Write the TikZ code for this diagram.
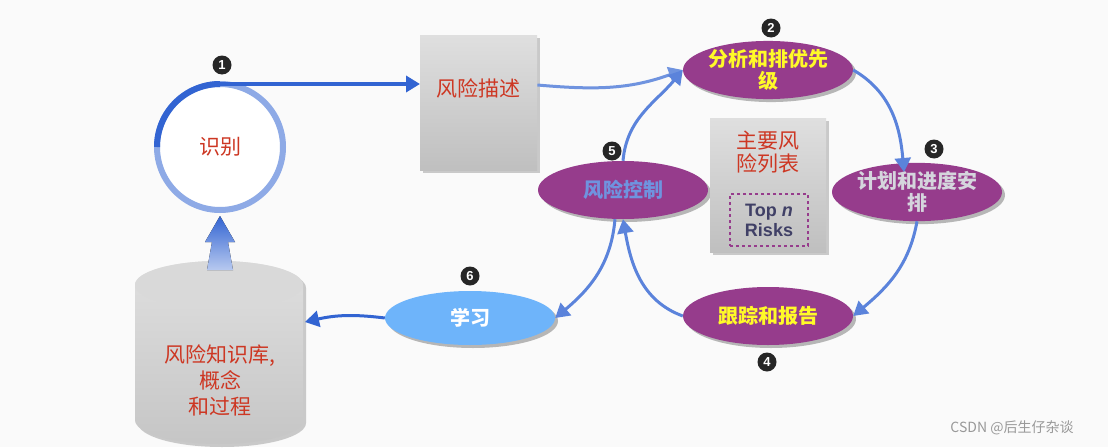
\documentclass[tikz,border=0pt]{standalone}
\usepackage{fontspec}
\setmainfont{Liberation Sans}
\newfontfamily\cjk{Noto Sans CJK SC}
\usetikzlibrary{shapes.geometric,arrows.meta,shadows}
\definecolor{rtxt}{RGB}{205,55,35}
\definecolor{purp}{RGB}{150,60,140}
\definecolor{abl}{RGB}{50,100,210}
\definecolor{lbl}{RGB}{110,180,250}
\definecolor{ytxt}{RGB}{255,250,40}
\tikzset{
  x=1pt,y=-1pt,
  oval/.style={ellipse,minimum width=170pt,minimum height=58pt,fill=purp,inner sep=0pt,align=center,
     font=\cjk\fontsize{20}{22}\selectfont\bfseries,drop shadow={shadow xshift=3pt,shadow yshift=-3pt,fill=gray!70,opacity=.8}},
  badge/.style={circle,fill=black!85,text=white,inner sep=0pt,minimum size=19pt,font=\bfseries\fontsize{13}{13}\selectfont},
  arr/.style={-{Triangle[length=14pt,width=16pt]},line width=4pt,abl},
  graybox/.style={top color=gray!25,bottom color=gray!50,draw=none,drop shadow={shadow xshift=3pt,shadow yshift=-3pt,fill=gray!80}},
}
\begin{document}
\begin{tikzpicture}
\fill[gray!4] (0,0) rectangle (1108,447);
\useasboundingbox (0,0) rectangle (1108,447);
% circle
\node[circle,minimum size=126pt,outer sep=0pt,draw=abl!55,line width=6pt,fill=white,text=rtxt,font=\cjk\fontsize{21}{21}\selectfont] (id) at (220,147) {识别};
\draw[abl,line width=6pt] (id.west) arc[start angle=180,end angle=270,radius=63] coordinate (idtop);
% box
\node[graybox,minimum width=117pt,minimum height=135pt,anchor=north west] (desc) at (420,35) {};
\node[text=rtxt,font=\cjk\fontsize{21}{21}\selectfont] (desct) at (478,88) {风险描述};
\draw[arr] (idtop) -- (desc.west |- idtop);
\node[badge] (b1) at (222,65) {1};
% ellipses
\node[oval,text=ytxt] (ana) at (768,70) {分析和排优先\\级};
\node[oval,text=blue!10!gray!30] (plan) at (917,192) {计划和进度安\\排};
\node[oval,text=ytxt] (trk) at (768,316) {跟踪和报告};
\node[oval,text=abl!70!white] (ctl) at (623,190) {风险控制};
\node[oval,fill=lbl,text=white,minimum height=54pt] (lrn) at (470,318) {学习};
\node[badge] (b2) at (771,28) {2};
\node[badge] (b3) at (934,149) {3};
\node[badge] (b4) at (767,362) {4};
\node[badge] (b5) at (612,151) {5};
\node[badge] (b6) at (470,276) {6};
% center box
\node[graybox,minimum width=116pt,minimum height=134pt,anchor=north west] (top) at (710,118) {};
\node[text=rtxt,align=center,font=\cjk\fontsize{21}{23}\selectfont] (topt) at (768,152) {主要风\\险列表};
\node[draw=purp,dashed,line width=1.2pt,minimum width=78pt,minimum height=52pt,align=center,text=black!70!blue!50!gray,font=\bfseries\fontsize{18}{20}\selectfont] (tn) at (769,220) {Top \textit{n}\\Risks};
% cylinder
\shade[top color=gray!25,bottom color=gray!45,drop shadow={shadow xshift=3pt,shadow yshift=-3pt,fill=gray!80}]
  (135,285) arc[x radius=84,y radius=24,start angle=180,end angle=360] -- (303,420)
  arc[x radius=84,y radius=24,start angle=0,end angle=180] -- cycle;
\fill[gray!30] (219,285) ellipse[x radius=84,y radius=24];
\node[text=rtxt,align=center,font=\cjk\fontsize{21}{26}\selectfont] (kbt) at (220,380) {风险知识库,\\概念\\和过程};
\coordinate (kbr) at (305,322);
% arrows
\fill[top color=abl,bottom color=abl!35] (207,270) -- (212,242) -- (205,242) -- (220,216) -- (235,242) -- (228,242) -- (233,270) -- cycle;
\draw[arr,line width=3pt] (lrn.west) to[bend right=10] (kbr);
\draw[arr,abl!70,line width=3pt] (desc.east |- 0,85) to[out=-5,in=200] (ana.west);
\draw[arr,abl!80,line width=3pt] (ana.east) to[out=-30,in=95] (904,172);
\draw[arr,abl!80,line width=3pt] (plan.south) to[out=-100,in=40] (trk.east);
\draw[arr,abl!80,line width=3pt] (trk.west) to[out=160,in=-80] (ctl.south);
\draw[arr,abl!80,line width=3pt] (ctl.north) to[out=85,in=-130] (ana.west);
\draw[arr,abl!80,line width=3pt] (ctl.south) ++(-8,0) to[out=-95,in=40] (lrn.east);
\node[text=gray!80,font=\cjk\fontsize{14}{14}\selectfont] (wm) at (1012,428) {CSDN @后生仔杂谈};
\end{tikzpicture}
\end{document}
